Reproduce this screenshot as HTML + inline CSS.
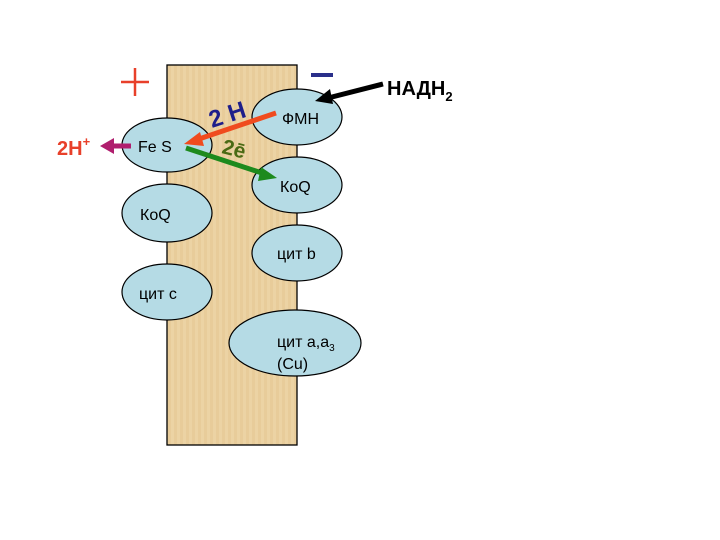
<!DOCTYPE html>
<html><head><meta charset="utf-8"><style>
html,body{margin:0;padding:0;background:#fff;}
svg{display:block;font-family:"Liberation Sans",sans-serif;}
</style></head><body>
<svg width="720" height="540" viewBox="0 0 720 540">
<defs>
<pattern id="pap" width="6" height="6" patternUnits="userSpaceOnUse">
<rect width="6" height="6" fill="#ecd3a4"/>
<rect x="0" y="0" width="3" height="6" fill="#e8cc9a"/>
</pattern>
</defs>
<rect x="167" y="65" width="130" height="380" fill="url(#pap)" stroke="#000" stroke-width="1.3"/>
<line x1="121" y1="82" x2="149" y2="82" stroke="#e8402a" stroke-width="2.5"/>
<line x1="135" y1="68" x2="135" y2="96" stroke="#e8402a" stroke-width="2.5"/>
<rect x="311" y="73" width="22" height="4" fill="#2a2f8a"/>
<g fill="#b5dbe5" stroke="#000" stroke-width="1.2">
<ellipse cx="297" cy="117" rx="45" ry="28"/>
<ellipse cx="297" cy="185" rx="45" ry="28"/>
<ellipse cx="167" cy="145" rx="45" ry="27"/>
<ellipse cx="167" cy="213" rx="45" ry="29"/>
<ellipse cx="297" cy="253" rx="45" ry="28"/>
<ellipse cx="167" cy="292" rx="45" ry="28"/>
<ellipse cx="295" cy="343" rx="66" ry="33"/>
</g>
<g font-size="16" fill="#000">
<text x="282" y="124">ФМН</text>
<text x="280" y="192">КoQ</text>
<text x="140" y="220">КoQ</text>
<text x="277" y="259">цит b</text>
<text x="139" y="299">цит с</text>
<text x="277" y="347">цит a,a<tspan font-size="10" dy="4">3</tspan></text>
<text x="277" y="369">(Cu)</text>
<text x="138" y="152">Fe S</text>
</g>
<line x1="276" y1="113" x2="196" y2="140" stroke="#f04b1e" stroke-width="5"/>
<polygon points="184,144 200,132 204,146" fill="#f04b1e"/>
<line x1="186" y1="148" x2="265" y2="174" stroke="#1d8a1d" stroke-width="5"/>
<polygon points="277,178 261,167 258,181" fill="#1d8a1d"/>
<line x1="131" y1="146" x2="112" y2="146" stroke="#b01e6e" stroke-width="5"/>
<polygon points="100,146 114,138 114,154" fill="#b01e6e"/>
<line x1="383" y1="84" x2="328" y2="98" stroke="#000" stroke-width="5"/>
<polygon points="315,101 330,89 333,104" fill="#000"/>
<text x="57" y="155" font-size="20" font-weight="bold" fill="#e8402a">2H<tspan font-size="13" dy="-9">+</tspan></text>
<text x="387" y="95" font-size="20" font-weight="bold" fill="#000">НАДН<tspan font-size="13" dy="6">2</tspan></text>
<text x="0" y="0" font-size="24" font-weight="bold" fill="#1e1e8a" transform="translate(212,128) rotate(-18)">2 Н</text>
<text x="0" y="0" font-size="21" font-weight="bold" fill="#4a6a14" transform="translate(221,153) rotate(14)">2ē</text>
</svg>
</body></html>
